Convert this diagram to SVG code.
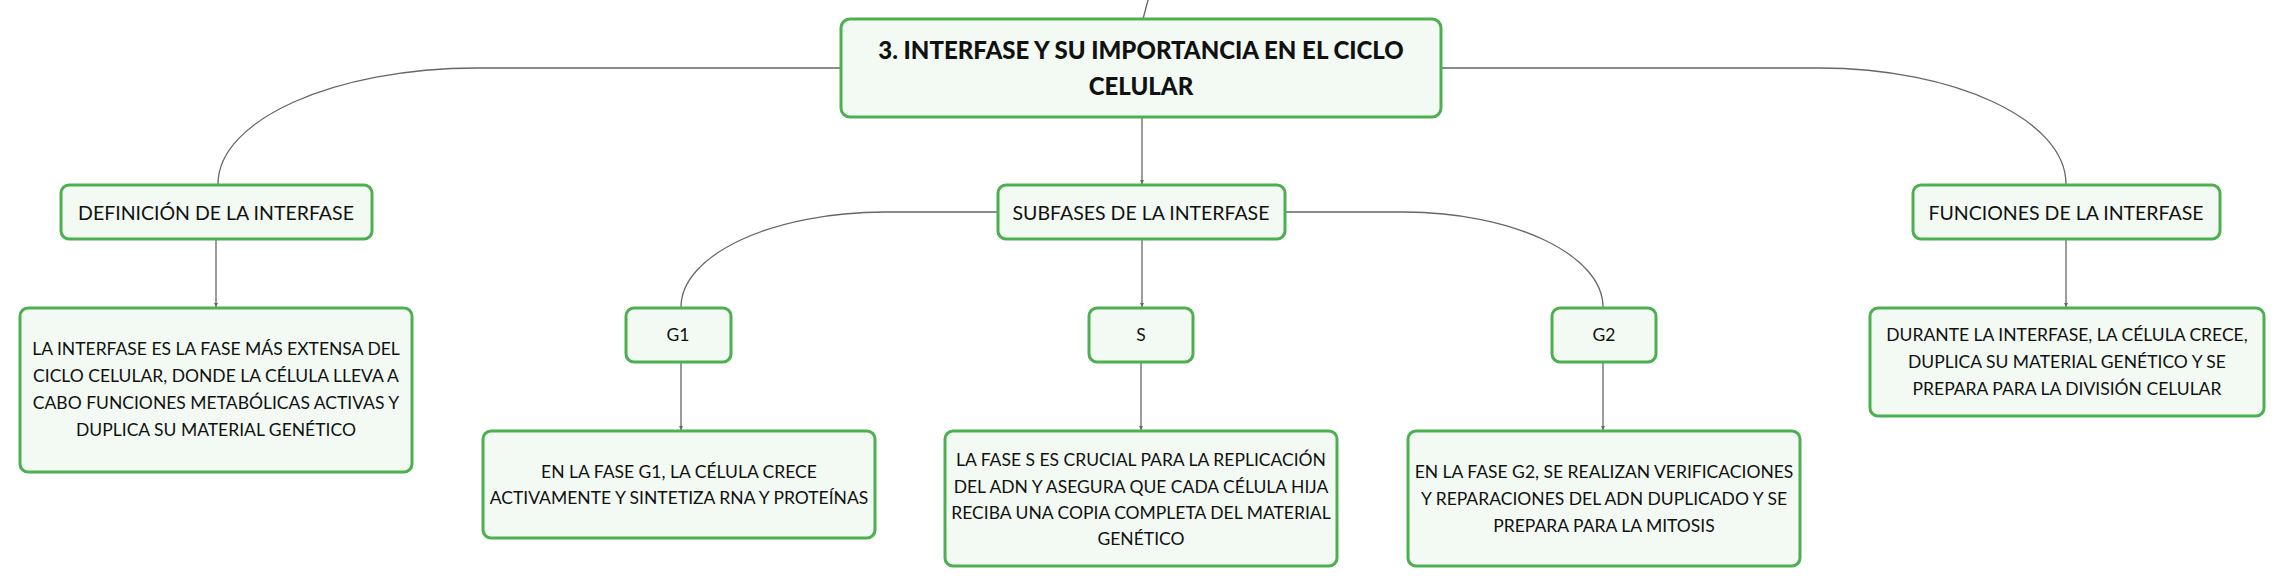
<svg xmlns="http://www.w3.org/2000/svg" width="2284" height="586" viewBox="0 0 2284 586">
<style>
.box{fill:#f2faf3;stroke:#4caf50;stroke-width:3}
.t{font-family:Lato,"Liberation Sans",sans-serif;font-size:17.5px;fill:#111;text-anchor:middle}
.t2{font-family:Lato,"Liberation Sans",sans-serif;font-size:19.5px;fill:#111;text-anchor:middle}
.root{font-family:Lato,"Liberation Sans",sans-serif;font-size:24px;font-weight:900;fill:#111;text-anchor:middle}
.c{fill:none;stroke:#666;stroke-width:1.3}
</style>
<defs>
<marker id="ah" viewBox="0 0 6 6" refX="6" refY="3" markerWidth="4" markerHeight="4" orient="auto" markerUnits="userSpaceOnUse">
<path d="M0,0 L6,3 L0,6 z" fill="#666"/>
</marker>
</defs>
<rect width="2284" height="586" fill="#fff"/>
<g id="connectors">
<path class="c" d="M1143,19 L1148,0"/>
<path class="c" d="M841,68 H477 C334,68 218,120 218,184"/>
<path class="c" d="M1441,68 H1819 C1955,68 2066,120 2066,184"/>
<path class="c" d="M1142,117 V184" marker-end="url(#ah)"/>
<path class="c" d="M216,239 V307" marker-end="url(#ah)"/>
<path class="c" d="M998,212 H885 C772,212 681,255 681,307"/>
<path class="c" d="M1285,212 H1404 C1513,212 1603,255 1603,307"/>
<path class="c" d="M1142,239 V307" marker-end="url(#ah)"/>
<path class="c" d="M681,362 V430" marker-end="url(#ah)"/>
<path class="c" d="M1141,362 V430" marker-end="url(#ah)"/>
<path class="c" d="M1603,362 V430" marker-end="url(#ah)"/>
<path class="c" d="M2066,239 V307" marker-end="url(#ah)"/>
</g>
<g id="root">
<rect class="box" x="841" y="19" width="600" height="98" rx="9"/>
<text class="root" x="1141" y="58.5">3. INTERFASE Y SU IMPORTANCIA EN EL CICLO</text>
<text class="root" x="1141" y="94.5">CELULAR</text>
</g>
<g id="definicion">
<rect class="box" x="61" y="185" width="311" height="54" rx="8"/>
<text class="t2" x="216" y="220">DEFINICIÓN DE LA INTERFASE</text>
</g>
<g id="subfases">
<rect class="box" x="998" y="185" width="287" height="54" rx="8"/>
<text class="t2" x="1141" y="220">SUBFASES DE LA INTERFASE</text>
</g>
<g id="funciones">
<rect class="box" x="1913" y="185" width="307" height="54" rx="8"/>
<text class="t2" x="2066" y="220">FUNCIONES DE LA INTERFASE</text>
</g>
<g id="definicion-detalle">
<rect class="box" x="20" y="308" width="392" height="164" rx="8"/>
<text class="t" x="216" y="355">LA INTERFASE ES LA FASE MÁS EXTENSA DEL</text>
<text class="t" x="216" y="382">CICLO CELULAR, DONDE LA CÉLULA LLEVA A</text>
<text class="t" x="216" y="409">CABO FUNCIONES METABÓLICAS ACTIVAS Y</text>
<text class="t" x="216" y="435.5">DUPLICA SU MATERIAL GENÉTICO</text>
</g>
<g id="g1">
<rect class="box" x="626" y="308" width="105" height="54" rx="8"/>
<text class="t" x="678" y="341">G1</text>
</g>
<g id="s">
<rect class="box" x="1089" y="308" width="104" height="54" rx="8"/>
<text class="t" x="1141" y="341">S</text>
</g>
<g id="g2">
<rect class="box" x="1552" y="308" width="104" height="54" rx="8"/>
<text class="t" x="1604" y="341">G2</text>
</g>
<g id="g1-detalle">
<rect class="box" x="483" y="431" width="392" height="107" rx="8"/>
<text class="t" x="679" y="477.5">EN LA FASE G1, LA CÉLULA CRECE</text>
<text class="t" x="679" y="504">ACTIVAMENTE Y SINTETIZA RNA Y PROTEÍNAS</text>
</g>
<g id="s-detalle">
<rect class="box" x="945" y="431" width="392" height="135" rx="8"/>
<text class="t" x="1141" y="466">LA FASE S ES CRUCIAL PARA LA REPLICACIÓN</text>
<text class="t" x="1141" y="492.5">DEL ADN Y ASEGURA QUE CADA CÉLULA HIJA</text>
<text class="t" x="1141" y="518.5">RECIBA UNA COPIA COMPLETA DEL MATERIAL</text>
<text class="t" x="1141" y="544.5">GENÉTICO</text>
</g>
<g id="g2-detalle">
<rect class="box" x="1408" y="431" width="392" height="135" rx="8"/>
<text class="t" x="1604" y="478">EN LA FASE G2, SE REALIZAN VERIFICACIONES</text>
<text class="t" x="1604" y="505">Y REPARACIONES DEL ADN DUPLICADO Y SE</text>
<text class="t" x="1604" y="531.5">PREPARA PARA LA MITOSIS</text>
</g>
<g id="funciones-detalle">
<rect class="box" x="1870" y="308" width="394" height="108" rx="8"/>
<text class="t" x="2067" y="341">DURANTE LA INTERFASE, LA CÉLULA CRECE,</text>
<text class="t" x="2067" y="368">DUPLICA SU MATERIAL GENÉTICO Y SE</text>
<text class="t" x="2067" y="395">PREPARA PARA LA DIVISIÓN CELULAR</text>
</g>
</svg>
